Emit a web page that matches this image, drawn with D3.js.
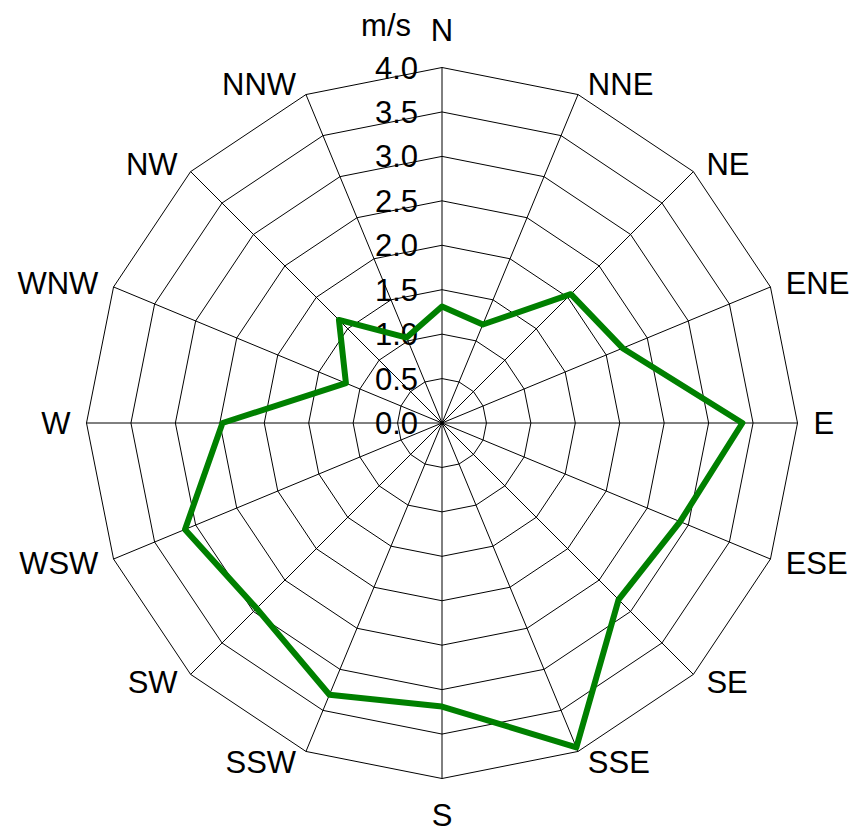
<!DOCTYPE html>
<html>
<head>
<meta charset="utf-8">
<script src="https://cdn.jsdelivr.net/npm/d3@7"></script>
<style>
    body { margin: 0; background: #fff; }
    text { font-family: "Liberation Sans", Arial, sans-serif; font-size: 31px; fill: #000; }
</style>
</head>
<body>
<div id="chart"></div>
<script>
// Wind directions (clockwise from north)
var directions = ["N", "NNE", "NE", "ENE", "E", "ESE", "SE", "SSE",
                  "S", "SSW", "SW", "WSW", "W", "WNW", "NW", "NNW"];
// Mean wind speed per direction, m/s
var speeds = [1.31, 1.20, 2.05, 2.20, 3.38, 2.90, 2.81, 3.95,
              3.19, 3.31, 2.95, 3.13, 2.47, 1.17, 1.64, 1.04];
// Value axis ticks
var tickValues = [0.0, 0.5, 1.0, 1.5, 2.0, 2.5, 3.0, 3.5, 4.0];
var unitLabel = "m/s";

// Basic size information
var width = 866,
    height = 835,
    cx = 442,
    cy = 423,
    radius = 355.5,
    capH = 31 * 0.716;

var r = d3.scaleLinear()
    .domain([0, 4])
    .range([0, radius]);

var angle = d3.scaleLinear()
    .domain([0, directions.length])
    .range([0, 2 * Math.PI]);

var svg = d3.select("#chart")
    .append("svg")
        .attr("width", width)
        .attr("height", height)
    .append("g")
        .attr("transform", "translate(" + cx + "," + cy + ")");

// Rings (polygons) for each tick
var ring = d3.lineRadial()
    .angle(function (d, i) { return angle(i); })
    .radius(function (d) { return r(d); })
    .curve(d3.curveLinearClosed);

svg.selectAll(".ring")
    .data(tickValues.filter(function (v) { return v > 0; }))
    .enter().append("path")
        .attr("class", "ring")
        .attr("d", function (v) { return ring(directions.map(function () { return v; })); })
        .attr("fill", "none")
        .attr("stroke", "#000")
        .attr("stroke-width", 1);

// Spokes
svg.selectAll(".spoke")
    .data(directions)
    .enter().append("line")
        .attr("class", "spoke")
        .attr("x1", 0)
        .attr("y1", 0)
        .attr("x2", function (d, i) { return r(4) * Math.sin(angle(i)); })
        .attr("y2", function (d, i) { return -r(4) * Math.cos(angle(i)); })
        .attr("stroke", "#000")
        .attr("stroke-width", 1);

// Value axis labels along the north spoke
svg.selectAll(".tick")
    .data(tickValues)
    .enter().append("text")
        .attr("class", "tick")
        .attr("x", -24)
        .attr("y", function (v) { return -r(v) + capH / 2; })
        .attr("text-anchor", "end")
        .text(d3.format(".1f"));

svg.append("text")
    .attr("x", -31)
    .attr("y", 36 - cy)
    .attr("text-anchor", "end")
    .text(unitLabel);

// Direction labels
svg.selectAll(".dir")
    .data(directions)
    .enter().append("text")
        .attr("class", "dir")
        .each(function (d, i) {
            var a = angle(i),
                s = Math.sin(a),
                c = Math.cos(a),
                vx = r(4) * s,
                vy = -r(4) * c,
                el = d3.select(this);
            if (Math.abs(s) < 0.01) {
                el.attr("text-anchor", "middle")
                  .attr("x", vx)
                  .attr("y", c > 0 ? vy - 27 : vy + 25.5 + capH);
            } else {
                el.attr("text-anchor", s > 0 ? "start" : "end")
                  .attr("x", vx + (s > 0 ? 1 : -1) * (6 + 10 * Math.abs(s)))
                  .attr("y", vy - c * capH / 2 + capH / 2);
            }
        })
        .text(function (d) { return d; });

// Speed polygon
var line = d3.lineRadial()
    .angle(function (d, i) { return angle(i); })
    .radius(function (d) { return r(d); })
    .curve(d3.curveLinearClosed);

svg.append("path")
    .datum(speeds)
    .attr("d", line)
    .attr("fill", "none")
    .attr("stroke", "#008000")
    .attr("stroke-width", 6)
    .attr("stroke-linejoin", "round");
</script>
</body>
</html>
